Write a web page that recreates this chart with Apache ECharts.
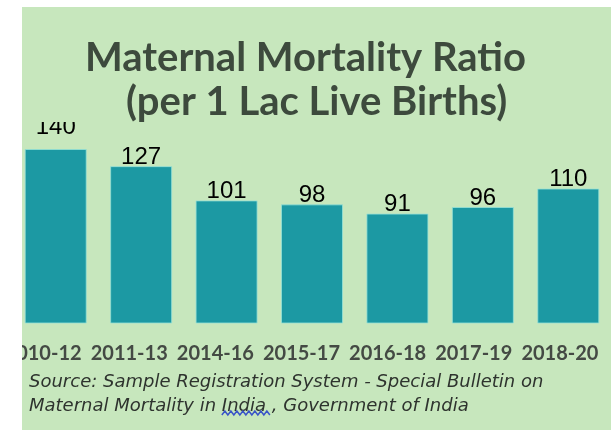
<!DOCTYPE html>
<html>
<head>
<meta charset="utf-8">
<script src="https://cdn.jsdelivr.net/npm/echarts@6/dist/echarts.min.js"></script>
<style>
  html, body { margin: 0; padding: 0; background: #fff; }
  #chart { width: 611px; height: 434px; }
</style>
</head>
<body>
<div id="chart"></div>
<script>
// Maternal Mortality Ratio, India (per 1 lakh live births)
const periods = ['2010-12', '2011-13', '2014-16', '2015-17', '2016-18', '2017-19', '2018-20'];
const mmrValues = [140, 127, 101, 98, 91, 96, 110];
const titleLines = ['Maternal Mortality Ratio', '(per 1 Lac Live Births)'];
const sourceLines = [
  'Source: Sample Registration System - Special Bulletin on',
  'Maternal Mortality in India , Government of India'
];

const panelGreen = '#c7e7bd';
const barColor = '#1c99a3';
const sourceFont = 'italic 18px "DejaVu Sans"';

// where "India" falls in the second source line, for the spell-check squiggle
const ctx = document.createElement('canvas').getContext('2d');
ctx.font = sourceFont;
const squiggleX0 = 29 + ctx.measureText('Maternal Mortality in ').width;
const squiggleX1 = squiggleX0 + ctx.measureText('India').width + 6;
const squiggle = [];
for (let x = squiggleX0, k = 0; x <= squiggleX1; x += 3, k++) {
  squiggle.push([x, k % 2 ? 411 : 415]);
}

const chart = echarts.init(document.getElementById('chart'));

chart.setOption({
  backgroundColor: '#ffffff',
  animation: false,
  title: [
    {
      text: titleLines[0],
      left: 80, top: 33,
      z: 60,
      textStyle: { fontFamily: 'Lato', fontWeight: 'bold', fontSize: 40, color: '#3d4a3d' }
    },
    {
      text: titleLines[1],
      left: 121, top: 77,
      z: 60,
      textStyle: { fontFamily: 'Lato', fontWeight: 'bold', fontSize: 40, color: '#3d4a3d' }
    },
    {
      text: sourceLines.join('\n'),
      left: 24, top: 365,
      z: 60,
      textStyle: {
        fontFamily: 'DejaVu Sans', fontStyle: 'italic', fontWeight: 'normal',
        fontSize: 18, lineHeight: 24, color: '#2e332e'
      }
    }
  ],
  graphic: [
    { type: 'rect', z: -10, shape: { x: 22, y: 7, width: 589, height: 423 }, style: { fill: panelGreen } },
    // title box covers the top of the first value label, like the original
    { type: 'rect', z: 50, shape: { x: 22, y: 7, width: 589, height: 115 }, style: { fill: panelGreen } },
    // white margin on the left crops the first period label
    { type: 'rect', z: 100, shape: { x: 0, y: 0, width: 22, height: 434 }, style: { fill: '#ffffff' } },
    {
      type: 'polyline', z: 70,
      shape: { points: squiggle },
      style: { stroke: '#3a55c8', lineWidth: 1.5, fill: null }
    }
  ],
  grid: [
    { left: 13, width: 598, top: 149, height: 174 },
    { left: -7, width: 610, top: 149, height: 174 }
  ],
  xAxis: [
    {
      type: 'category', gridIndex: 0, data: periods,
      axisLine: { show: false }, axisTick: { show: false }, axisLabel: { show: false }
    },
    {
      type: 'category', gridIndex: 1, data: periods,
      axisLine: { show: false }, axisTick: { show: false },
      axisLabel: {
        margin: 21, interval: 0,
        fontFamily: 'Lato', fontWeight: 'bold', fontSize: 20, color: '#444a44'
      }
    }
  ],
  yAxis: [
    { type: 'value', gridIndex: 0, min: 8, max: 140, show: false },
    { type: 'value', gridIndex: 1, show: false }
  ],
  series: [
    {
      type: 'bar',
      xAxisIndex: 0, yAxisIndex: 0,
      barWidth: 62,
      data: mmrValues.map((v, i) => i === 0 ? { value: v, label: { distance: 10 } } : v),
      itemStyle: { color: barColor, borderColor: 'rgba(150,225,215,0.8)', borderWidth: 1 },
      label: {
        show: true, position: 'top', distance: -3,
        fontFamily: 'Liberation Sans', fontSize: 24, color: '#000000'
      }
    }
  ]
});
</script>
</body>
</html>
